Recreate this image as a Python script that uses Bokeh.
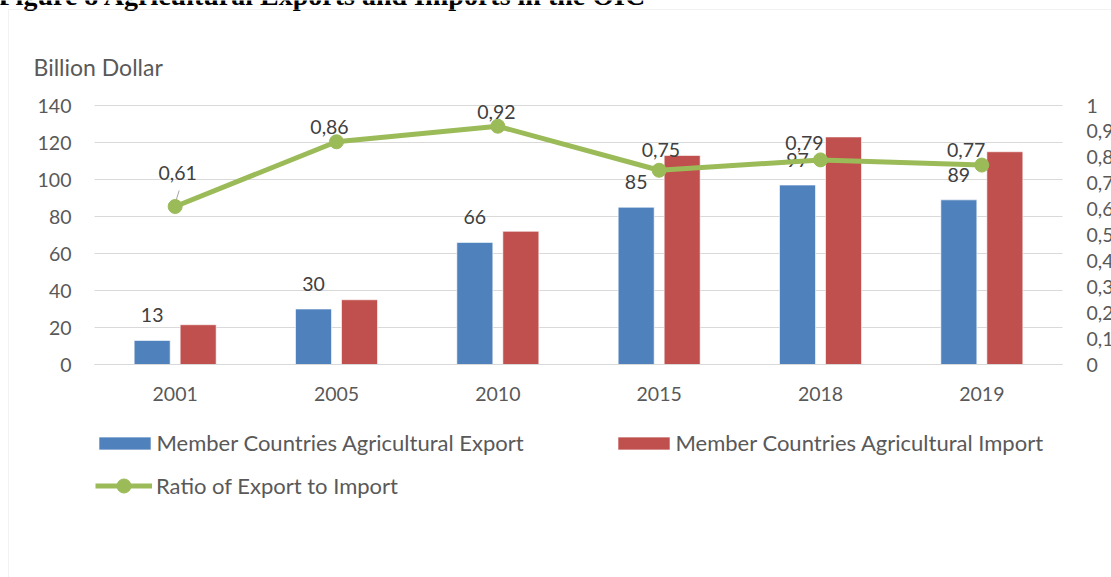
from bokeh.plotting import figure
from bokeh.models import (ColumnDataSource, Range1d, LinearAxis, FixedTicker,
                          CustomJSTickFormatter, Legend, LegendItem, Label, BoxAnnotation)
from bokeh.transform import dodge
from bokeh.core.properties import value
from bokeh.embed import file_html
from bokeh.resources import INLINE

# ---- data ----
years = ["2001", "2005", "2010", "2015", "2018", "2019"]
exports = [13, 30, 66, 85, 97, 89]
imports = [21.5, 35, 72, 113, 123, 115]
ratio = [0.61, 0.86, 0.92, 0.75, 0.79, 0.77]
left_ticks = [0, 20, 40, 60, 80, 100, 120, 140]
right_ticks = [0, 0.1, 0.2, 0.3, 0.4, 0.5, 0.6, 0.7, 0.8, 0.9, 1.0]

# label placement styles (pixels)
ratio_label_dx = [2.5, -7, -1.5, 1.7, -16, -15.7]
ratio_label_dy = [34, 15, 14, 20, 17, 15]

FONT = "Lato"
AXIS_COLOR = "#595959"
LABEL_COLOR = "#404040"
GRID = "#D9D9D9"
BLUE = "#4F81BD"
RED = "#C0504D"
GREEN = "#9BBB59"
FS = "19.5px"      # numbers
FS_TXT = "22px"    # words

# geometry of the plotting area inside the canvas (pixels)
W, H = 1111, 577
FL, FR, FT, FB = 94, 1062, 105, 364

xs = list(range(len(years)))
n = len(years)
ppx = (FR - FL) / n                       # pixels per category
x_lo, x_hi = -0.5, n - 0.5
y_lo, y_hi = left_ticks[0], left_ticks[-1]
r_lo, r_hi = right_ticks[0], right_ticks[-1]
ppy = (FB - FT) / (y_hi - y_lo)
ppr = (FB - FT) / (r_hi - r_lo)

src = ColumnDataSource(dict(
    x=xs, years=years, exports=exports, imports=imports, ratio=ratio,
    export_txt=[str(v) for v in exports],
    ratio_txt=[f"{r:.2f}".replace(".", ",") for r in ratio],
    rdx=ratio_label_dx, rdy=[-d for d in ratio_label_dy],
))

p = figure(width=W, height=H,
           x_range=Range1d(x_lo - FL / ppx, x_hi + (W - FR) / ppx),
           y_range=Range1d(y_lo - (H - FB) / ppy, y_hi + FT / ppy),
           output_backend="svg", toolbar_location=None, min_border=0,
           x_axis_location=None, y_axis_location=None)
p.extra_y_ranges = {"ratio": Range1d(r_lo - (H - FB) / ppr, r_hi + FT / ppr)}
p.outline_line_color = None
p.background_fill_color = "white"
p.border_fill_color = "white"
p.grid.visible = False

# horizontal grid lines at the left-axis ticks
grid_src = ColumnDataSource(dict(y=left_ticks, x0=[x_lo] * len(left_ticks), x1=[x_hi] * len(left_ticks)))
p.segment(x0="x0", x1="x1", y0="y", y1="y", source=grid_src, line_color=GRID, line_width=1)

bw = 36 / ppx
off = 23 / ppx
r_exp = p.vbar(x=dodge("x", -off), top="exports", width=bw, source=src,
               fill_color=BLUE, line_color="white", line_alpha=0.6, line_width=1)
r_imp = p.vbar(x=dodge("x", off), top="imports", width=bw, source=src,
               fill_color=RED, line_color="white", line_alpha=0.6, line_width=1)

# bar labels
p.text(x=dodge("x", -off), y="exports", text="export_txt", source=src,
       y_offset=-25, text_align="center", text_baseline="middle",
       text_font=value(FONT), text_font_size=FS, text_color=LABEL_COLOR)

# leader line for the first ratio label
lead = ColumnDataSource(dict(x0=[xs[0]], x1=[xs[0] + 4 / ppx],
                             y0=[ratio[0] + 3 / ppr], y1=[ratio[0] + 16 / ppr]))
p.segment(x0="x0", x1="x1", y0="y0", y1="y1", source=lead, y_range_name="ratio",
          line_color="#A6A6A6", line_width=1)

r_line = p.line(x="x", y="ratio", source=src, y_range_name="ratio",
                line_color=GREEN, line_width=5)
r_pts = p.scatter(x="x", y="ratio", source=src, y_range_name="ratio", size=14,
                  fill_color=GREEN, line_color=GREEN)

p.text(x="x", y="ratio", text="ratio_txt", source=src, y_range_name="ratio",
       x_offset="rdx", y_offset="rdy", text_align="center", text_baseline="middle",
       text_font=value(FONT), text_font_size=FS, text_color=LABEL_COLOR)

# axes (fixed at the edges of the plotting area)
def style_axis(ax, standoff):
    ax.major_tick_line_color = None
    ax.minor_tick_line_color = None
    ax.major_tick_out = 0
    ax.major_tick_in = 0
    ax.major_label_standoff = standoff
    ax.major_label_text_font = FONT
    ax.major_label_text_font_size = FS
    ax.major_label_text_color = AXIS_COLOR

xa = LinearAxis(fixed_location=y_lo, bounds=(x_lo, x_hi), ticker=FixedTicker(ticks=xs),
                major_label_overrides={i: y for i, y in zip(xs, years)})
style_axis(xa, 22)
xa.axis_line_color = GRID
p.add_layout(xa, "below")

ya = LinearAxis(fixed_location=x_lo, bounds=(y_lo, y_hi), ticker=FixedTicker(ticks=left_ticks))
style_axis(ya, 23)
ya.axis_line_color = None
p.add_layout(ya, "left")

ra = LinearAxis(y_range_name="ratio", fixed_location=x_hi, bounds=(r_lo, r_hi),
                ticker=FixedTicker(ticks=right_ticks),
                formatter=CustomJSTickFormatter(code="""
                    const s = tick.toFixed(1);
                    return s.endsWith('.0') ? s.slice(0, -2) : s.replace('.', ',');
                """))
style_axis(ra, 24)
ra.axis_line_color = None
p.add_layout(ra, "right")

# legends
def mk_legend(items, x, y, gw, gh, standoff, lh):
    lg = Legend(items=items, location=(x, y), orientation="horizontal",
                glyph_width=gw, glyph_height=gh, label_standoff=standoff,
                label_height=lh, padding=0, margin=0, spacing=0,
                border_line_color=None, background_fill_alpha=0,
                label_text_font=FONT, label_text_font_size=FS_TXT, label_text_color=AXIS_COLOR)
    p.add_layout(lg)

mk_legend([LegendItem(label="Member Countries Agricultural Export", renderers=[r_exp])],
          91.5, H - 456.5, 65, 16, 0, 28)
mk_legend([LegendItem(label="Member Countries Agricultural Import", renderers=[r_imp])],
          610.5, H - 456.5, 65, 16, 0, 28)
mk_legend([LegendItem(label="Ratio of Export to Import", renderers=[r_line, r_pts])],
          95, H - 502.5, 57, 35, 4, 28)

# axis title
p.add_layout(Label(x=33, y=H - 66, x_units="screen", y_units="screen", text="Billion Dollar",
                   text_font=FONT, text_font_size="23px", text_color=AXIS_COLOR,
                   text_baseline="middle", text_align="left"))

# figure caption (cut off at the top of the page)
p.add_layout(Label(x=-2, y=H + 5, x_units="screen", y_units="screen",
                   text="Figure 8 Agricultural Exports and Imports in the OIC",
                   text_font="Liberation Serif", text_font_style="bold", text_font_size="28px",
                   text_color="black", text_baseline="alphabetic", text_align="left"))

# chart border
p.add_layout(BoxAnnotation(left=8, right=W + 50, top=H - 9, bottom=-50,
                           left_units="screen", right_units="screen",
                           top_units="screen", bottom_units="screen",
                           fill_alpha=0, line_color="#D4D4D4", line_width=1))

open("out.html", "w").write(file_html(p, INLINE))
